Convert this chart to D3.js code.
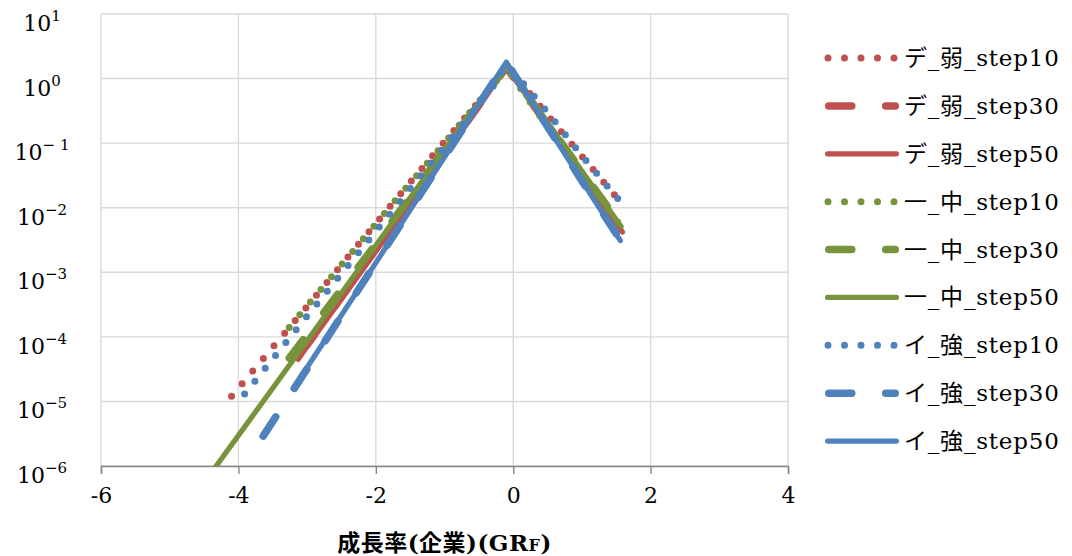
<!DOCTYPE html>
<html>
<head>
<meta charset="utf-8">
<script src="https://cdn.jsdelivr.net/npm/d3@7"></script>
<style>
  body { margin: 0; background: #ffffff; }
  svg { display: block; }
</style>
</head>
<body>
<svg id="chart" width="1072" height="556"></svg>
<script>
// Axis ticks and labels
const xTicks = [-6, -4, -2, 0, 2, 4];
const yExponents = [1, 0, -1, -2, -3, -4, -5, -6];
const yTickLabels = ["1", "0", "− 1", "−2", "−3", "−4", "−5", "−6"];
const xTitle = "成長率(企業)(GR";
const xTitleSmall = "F)";

// Series names (legend order)
const seriesNames = [
  "デ_弱_step10", "デ_弱_step30", "デ_弱_step50",
  "一_中_step10", "一_中_step30", "一_中_step50",
  "イ_強_step10", "イ_強_step30", "イ_強_step50"
];

// Growth-rate distributions: [growth rate, density]
const de10 = [[-4.10, 1.2e-5], [-3.49, 7.1e-5], [-2.88, 4.2e-4], [-2.28, 2.5e-3], [-1.67, 1.5e-2],
              [-1.06, 8.9e-2], [-0.45, 0.51], [-0.10, 1.43], [0.17, 0.72], [0.32, 0.46],
              [0.93, 0.077], [1.54, 0.013]];
const de30 = [[-3.11, 5.7e-5], [-3.00, 7.5e-5], [-2.00, 2.3e-3], [-1.00, 0.070], [-0.10, 1.50],
              [0.50, 0.19], [1.00, 0.032], [1.59, 4.3e-3]];
const de50 = [[-3.13, 4.5e-5], [-3.00, 7.1e-5], [-2.00, 2.1e-3], [-1.00, 0.064], [-0.10, 1.50],
              [0.50, 0.19], [1.00, 0.032], [1.59, 4.2e-3]];
const ichi10 = [[-3.26, 1.4e-4], [-2.50, 1.3e-3], [-1.75, 1.17e-2], [-1.00, 0.10], [-0.10, 1.45],
                [0.50, 0.18], [1.00, 0.034], [1.57, 5.1e-3]];
const ichi30 = [[-3.26, 4.7e-5], [-2.04, 2.4e-3], [-1.00, 0.080], [-0.10, 1.55],
                [0.50, 0.20], [1.00, 0.037], [1.60, 4.8e-3]];
const ichi50 = [[-4.40, 7.7e-7], [-3.00, 8.7e-5], [-2.00, 2.6e-3], [-1.00, 0.078], [-0.10, 1.65],
                [0.50, 0.21], [1.00, 0.037], [1.57, 5.1e-3]];
const i10 = [[-3.91, 1.3e-5], [-3.00, 2.1e-4], [-2.00, 4.3e-3], [-1.00, 0.089], [-0.30, 0.74],
             [-0.10, 1.60], [0.10, 0.97], [0.50, 0.30], [1.00, 0.064], [1.60, 0.011]];
const i30 = [[-3.64, 2.9e-6], [-3.00, 3.2e-5], [-2.00, 1.4e-3], [-1.00, 0.061], [-0.10, 1.80],
             [0.50, 0.18], [1.00, 0.026], [1.59, 2.8e-3]];
const i50 = [[-3.20, 1.6e-5], [-2.00, 1.4e-3], [-1.00, 0.061], [-0.10, 1.80],
             [0.50, 0.18], [1.00, 0.026], [1.56, 3.1e-3]];

const seriesValues = [de10, de30, de50, ichi10, ichi30, ichi50, i10, i30, i50];

// Styling
const seriesColors = ["#C0504D", "#C0504D", "#C0504D",
                      "#77933C", "#77933C", "#77933C",
                      "#4F81BD", "#4F81BD", "#4F81BD"];
const seriesKinds = ["dot", "dash", "solid", "dot", "dash", "solid", "dot", "dash", "solid"];
const strokeStyles = {
  dot:   { width: 7,    dash: "0 16.5" },
  dash:  { width: 7.5,  dash: "23 34" },
  solid: { width: 5.25, dash: null }
};

const serif = "'DejaVu Serif', 'Noto Sans CJK JP', serif";

const svg = d3.select("#chart");
const plot = { left: 101, right: 788, top: 14, bottom: 466 };

const x = d3.scaleLinear().domain([-6, 4]).range([plot.left, plot.right]);
const y = d3.scaleLog().domain([1e-6, 10]).range([plot.bottom, plot.top]);

// Gridlines
const grid = svg.append("g").attr("stroke", "#D9D9D9").attr("stroke-width", 1.4);
grid.selectAll("line.h").data(yExponents).join("line")
  .attr("x1", plot.left).attr("x2", plot.right)
  .attr("y1", d => y(Math.pow(10, d))).attr("y2", d => y(Math.pow(10, d)));
grid.selectAll("line.v").data(xTicks).join("line")
  .attr("x1", d => x(d)).attr("x2", d => x(d))
  .attr("y1", plot.top).attr("y2", plot.bottom);

// Bottom axis
const xAxis = d3.axisBottom(x).tickValues(xTicks).tickSize(8).tickPadding(12)
  .tickFormat(d => d < 0 ? "-" + Math.abs(d) : String(d));
const gx = svg.append("g").attr("transform", `translate(0,${plot.bottom})`).call(xAxis);
gx.select(".domain").attr("stroke", "#868686").attr("stroke-width", 1.4);
gx.selectAll(".tick line").attr("stroke", "#868686").attr("stroke-width", 1.4);
gx.selectAll(".tick text")
  .attr("font-family", serif).attr("font-size", 22).attr("fill", "#000")
  .attr("dy", "0.78em");

// Left axis labels: 10 with superscript exponent
const yLab = svg.append("g");
yExponents.forEach((e, i) => {
  const t = yLab.append("text")
    .attr("x", 42).attr("y", y(Math.pow(10, e)) + 17)
    .attr("text-anchor", "middle")
    .attr("font-family", serif).attr("font-size", 22).attr("fill", "#000");
  t.append("tspan").text("10");
  t.append("tspan").attr("dy", -10).attr("font-size", 15).text(yTickLabels[i]);
});

// Series lines
const clipId = "plot-clip";
svg.append("clipPath").attr("id", clipId).append("rect")
  .attr("x", plot.left).attr("y", plot.top)
  .attr("width", plot.right - plot.left).attr("height", plot.bottom - plot.top);

const line = d3.line().x(d => x(d[0])).y(d => y(d[1]));
const lines = svg.append("g").attr("clip-path", `url(#${clipId})`);
seriesValues.forEach((vals, i) => {
  const st = strokeStyles[seriesKinds[i]];
  lines.append("path")
    .datum(vals)
    .attr("d", line)
    .attr("fill", "none")
    .attr("stroke", seriesColors[i])
    .attr("stroke-width", st.width)
    .attr("stroke-linecap", "round")
    .attr("stroke-linejoin", "round")
    .attr("stroke-dasharray", st.dash);
});

// Legend
const legend = svg.append("g");
const legendY = d3.scalePoint().domain(seriesNames).range([58, 441]);
seriesNames.forEach((name, i) => {
  const st = strokeStyles[seriesKinds[i]];
  const cy = legendY(name);
  const x0 = seriesKinds[i] === "dot" ? 828 : 825 + st.width / 2;
  legend.append("line")
    .attr("x1", x0).attr("x2", 899 - st.width / 2)
    .attr("y1", cy).attr("y2", cy)
    .attr("stroke", seriesColors[i])
    .attr("stroke-width", st.width)
    .attr("stroke-linecap", "round")
    .attr("stroke-dasharray", st.dash);
  legend.append("text")
    .attr("x", 904).attr("y", cy + 8)
    .attr("font-family", serif).attr("font-size", 23).attr("letter-spacing", 0.8)
    .attr("fill", "#000")
    .text(name);
});

// Axis title
const title = svg.append("text")
  .attr("x", (plot.left + plot.right) / 2).attr("y", 551)
  .attr("text-anchor", "middle")
  .attr("font-family", serif).attr("font-size", 23).attr("font-weight", "bold")
  .attr("letter-spacing", 0.5)
  .attr("fill", "#000");
title.append("tspan").text(xTitle);
title.append("tspan").attr("font-size", 16).text(xTitleSmall.slice(0, 1));
title.append("tspan").text(xTitleSmall.slice(1));
</script>
</body>
</html>
